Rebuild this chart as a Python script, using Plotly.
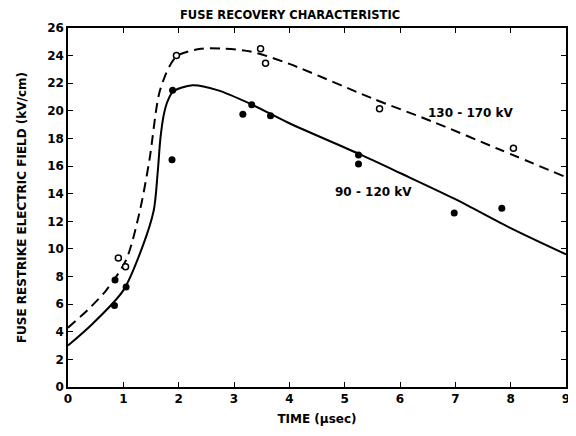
import plotly.graph_objects as go

# Measured points
filled_x = [0.84, 0.85, 1.05, 1.88, 1.89, 3.16, 3.32, 3.66, 5.25, 5.25, 6.98, 7.84]
filled_y = [5.9, 7.75, 7.25, 16.45, 21.5, 19.75, 20.45, 19.65, 16.8, 16.15, 12.6, 12.95]
open_x = [0.91, 1.04, 1.96, 3.48, 3.57, 5.63, 8.05]
open_y = [9.35, 8.7, 24.0, 24.5, 23.45, 20.15, 17.3]

# Fitted curves
solid_x = [0, 0.45, 1.0, 1.35, 1.55, 1.62, 1.67, 1.73, 1.8, 1.9, 2.25, 2.7, 3.3, 4.0, 5.25, 6.0, 7.0, 8.0, 9.0]
solid_y = [3.0, 4.6, 7.0, 10.2, 12.8, 15.5, 18.0, 19.7, 20.7, 21.4, 21.85, 21.5, 20.5, 19.1, 16.9, 15.5, 13.6, 11.5, 9.6]
dashed_x = [0, 0.36, 0.69, 1.05, 1.29, 1.47, 1.65, 1.83, 1.98, 2.4, 2.8, 3.3, 4.0, 5.5, 6.6, 7.8, 9.0]
dashed_y = [4.3, 5.6, 7.0, 9.2, 12.6, 16.4, 21.3, 23.2, 24.0, 24.5, 24.5, 24.3, 23.4, 20.9, 19.2, 17.2, 15.2]

x_ticks = [0, 1, 2, 3, 4, 5, 6, 7, 8, 9]
y_ticks = [0, 2, 4, 6, 8, 10, 12, 14, 16, 18, 20, 22, 24, 26]

font = dict(family="DejaVu Sans, sans-serif", size=12, color="black", weight="bold")
title_font = dict(family="DejaVu Sans, sans-serif", size=11.5, color="black", weight="bold")
tfont = dict(family="DejaVu Sans, sans-serif", size=12, color="black", weight="bold")

fig = go.Figure()
fig.add_trace(go.Scatter(x=dashed_x, y=dashed_y, mode="lines",
                         line=dict(color="black", width=2, dash="10px,6px", shape="spline", smoothing=0.8),
                         hoverinfo="skip"))
fig.add_trace(go.Scatter(x=solid_x, y=solid_y, mode="lines",
                         line=dict(color="black", width=2, shape="spline", smoothing=0.8),
                         hoverinfo="skip"))
fig.add_trace(go.Scatter(x=filled_x, y=filled_y, mode="markers",
                         marker=dict(color="black", size=7, symbol="circle")))
fig.add_trace(go.Scatter(x=open_x, y=open_y, mode="markers",
                         marker=dict(color="white", size=6, symbol="circle",
                                     line=dict(color="black", width=1.5))))

fig.add_annotation(x=7.29, y=19.85, text="130 - 170 kV", showarrow=False, font=font)
fig.add_annotation(x=5.52, y=14.1, text="90 - 120 kV", showarrow=False, font=font)
fig.add_annotation(xref="paper", yref="paper", x=0.446, y=1.036, text="FUSE RECOVERY CHARACTERISTIC",
                   showarrow=False, font=title_font, yanchor="middle")

axis_common = dict(showgrid=False, zeroline=False, showline=True, linecolor="black", linewidth=1.5,
                   mirror="ticks", ticks="inside", ticklen=5, tickcolor="black", tickwidth=1,
                   tickfont=tfont)
fig.update_xaxes(range=[0, 9], tickvals=x_ticks, ticklabeloverflow="allow",
                 title=dict(text="TIME (μsec)", font=font, standoff=9),
                 **axis_common)
fig.update_yaxes(range=[0, 26], tickvals=y_ticks,
                 title=dict(text="FUSE RESTRIKE ELECTRIC FIELD (kV/cm)", font=font, standoff=18),
                 **axis_common)
# page body has an 8px margin, so the figure is sized/offset to land in the 576x436 window
fig.update_layout(width=568, height=428, margin=dict(l=60, r=6, t=20, b=49),
                  paper_bgcolor="white", plot_bgcolor="white", showlegend=False)
fig.write_html("out.html")
